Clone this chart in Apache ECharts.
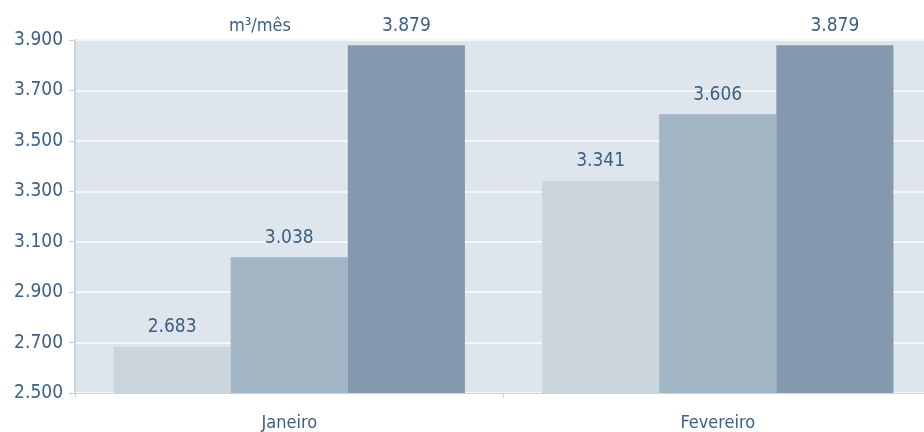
<!DOCTYPE html>
<html><head><meta charset="utf-8">
<script src="https://cdn.jsdelivr.net/npm/echarts@6/dist/echarts.min.js"></script>
<style>html,body{margin:0;padding:0;background:#fff}#c{width:924px;height:432px}</style>
</head><body><div id="c"></div>
<script>
const categories = ['Janeiro', 'Fevereiro'];
const serie1 = [2683, 3341];
const serie2 = [3038, 3606];
const serie3 = [3879, 3879];
const yTicks = [2500, 2700, 2900, 3100, 3300, 3500, 3700, 3900];
const unitLabel = 'm³/mês';

const FONT = '"DejaVu Sans Condensed", "DejaVu Sans", sans-serif';
const TXT = '#3d6085';
const fmt = v => {
  const s = String(Math.round(v));
  return s.length > 3 ? s.slice(0, s.length - 3) + '.' + s.slice(-3) : s;
};
const colors = ['#cbd5de', '#a3b6c5', '#8599ae'];
const mk = (data, i) => ({
  type: 'bar', data, barGap: '0%', barCategoryGap: '18%',
  itemStyle: { color: colors[i] },
  label: { show: true, position: 'top', distance: 10, color: TXT, fontFamily: FONT, fontSize: 19, formatter: p => fmt(p.value) }
});
const chart = echarts.init(document.getElementById('c'), null, { renderer: 'canvas' });
chart.setOption({
  animation: false,
  title: { text: unitLabel, left: 224, top: 12, textStyle: { color: TXT, fontFamily: FONT, fontSize: 18, fontWeight: 'normal' } },
  grid: { left: 75, right: -8, top: 40, bottom: 39, outerBoundsMode: 'none', containLabel: false, show: true, backgroundColor: '#dfe5ec', borderWidth: 0 },
  xAxis: {
    type: 'category', data: categories,
    axisLine: { lineStyle: { color: '#c9d3dc', width: 1 } },
    axisTick: { show: true, length: 5, lineStyle: { color: '#c9d3dc' } },
    axisLabel: { color: TXT, fontFamily: FONT, fontSize: 18, margin: 21 }
  },
  yAxis: {
    type: 'value', min: yTicks[0], max: yTicks[yTicks.length - 1], interval: yTicks[1] - yTicks[0],
    axisLine: { show: true, lineStyle: { color: '#c9d3dc', width: 2 } },
    axisTick: { show: true, length: 6, lineStyle: { color: '#c9d3dc' } },
    axisLabel: { color: TXT, fontFamily: FONT, fontSize: 19, margin: 12, formatter: v => fmt(v) },
    splitLine: { lineStyle: { color: '#f4f6f8', width: 2 } }
  },
  series: [mk(serie1, 0), mk(serie2, 1), mk(serie3, 2)]
});
</script></body></html>
